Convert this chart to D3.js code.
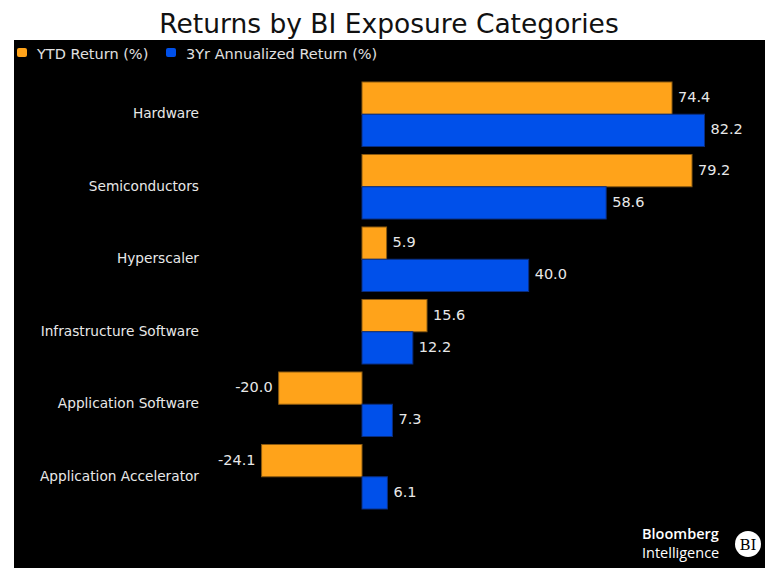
<!DOCTYPE html>
<html><head><meta charset="utf-8">
<script src="https://cdn.jsdelivr.net/npm/d3@7"></script>
<style>body{margin:0;background:#fff;}svg{display:block;font-family:"DejaVu Sans",sans-serif;}</style>
</head><body><svg id="c" width="780" height="586"></svg>
<script>
const categories = ["Hardware","Semiconductors","Hyperscaler","Infrastructure Software","Application Software","Application Accelerator"];
const seriesNames = ["YTD Return (%)","3Yr Annualized Return (%)"];
const ytd = [74.4, 79.2, 5.9, 15.6, -20.0, -24.1];
const threeYr = [82.2, 58.6, 40.0, 12.2, 7.3, 6.1];
const colors = ["#FFA31A","#0050EA"];
const strokes = ["#8a5a10","#0a2e80"];

const svg = d3.select("#c");
svg.append("text").attr("x",389).attr("y",33).attr("text-anchor","middle")
  .attr("font-size",26.5).attr("fill","#111").text("Returns by BI Exposure Categories");
svg.append("rect").attr("x",14).attr("y",40).attr("width",751).attr("height",528).attr("fill","#000");

// legend
const leg = [{x:17},{x:166}];
seriesNames.forEach((n,i)=>{
  svg.append("rect").attr("x",leg[i].x).attr("y",48).attr("width",10).attr("height",9).attr("rx",2)
    .attr("fill",colors[i]);
  svg.append("text").attr("x",leg[i].x+20).attr("y",59).attr("font-size",14.5).attr("fill","#e0e0e0").text(n);
});

const x = d3.scaleLinear().domain([0,74.4]).range([362,672]);
const y = d3.scaleBand().domain(categories).range([78,513]).paddingInner(0.11).paddingOuter(0.055);
const sub = d3.scaleBand().domain([0,1]).range([0,y.bandwidth()]);

const data = [];
categories.forEach((c,i)=>{ data.push({c,s:0,v:ytd[i]}); data.push({c,s:1,v:threeYr[i]}); });

svg.selectAll(".bar").data(data).enter().append("rect")
  .attr("x",d=>x(Math.min(0,d.v))).attr("width",d=>Math.abs(x(d.v)-x(0)))
  .attr("y",d=>y(d.c)+sub(d.s)).attr("height",sub.bandwidth())
  .attr("fill",d=>colors[d.s]).attr("stroke",d=>strokes[d.s]).attr("stroke-width",1);

svg.selectAll(".val").data(data).enter().append("text")
  .attr("x",d=>d.v>=0 ? x(d.v)+6 : x(d.v)-6)
  .attr("text-anchor",d=>d.v>=0?"start":"end")
  .attr("y",d=>y(d.c)+sub(d.s)+sub.bandwidth()/2-1)
  .attr("dy","0.35em").attr("font-size",14.5).attr("fill","#e8e8e8")
  .text(d=>d.v.toFixed(1));

svg.selectAll(".cat").data(categories).enter().append("text")
  .attr("x",199).attr("y",d=>y(d)+y.bandwidth()/2-1).attr("dy","0.35em")
  .attr("text-anchor","end").attr("font-size",13.7).attr("fill","#e8e8e8").text(d=>d);

// logo
svg.append("text").attr("x",642).attr("y",539).attr("font-size",14.5).attr("font-weight",600).attr("fill","#fff").attr("font-family","'Open Sans', sans-serif").text("Bloomberg");
svg.append("text").attr("x",642).attr("y",558).attr("font-size",14.5).attr("font-weight",500).attr("fill","#fff").attr("font-family","'Open Sans', sans-serif").text("Intelligence");
svg.append("circle").attr("cx",748).attr("cy",544).attr("r",13).attr("fill","#fff");
svg.append("text").attr("x",748).attr("y",549.5).attr("text-anchor","middle").attr("font-size",15).attr("fill","#000").attr("font-family","DejaVu Serif, serif").text("BI");
</script></body></html>
